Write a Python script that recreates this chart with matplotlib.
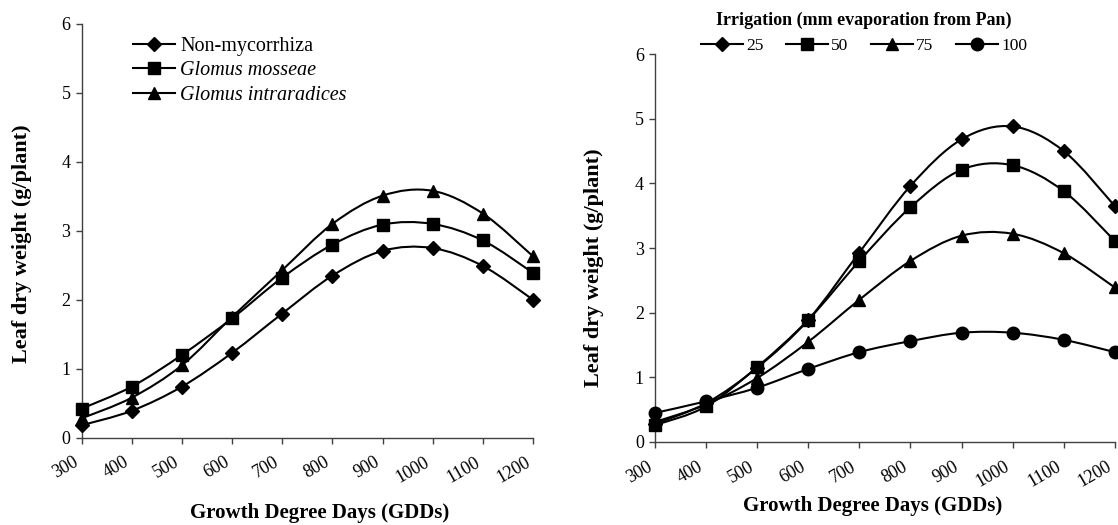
import matplotlib
matplotlib.use("Agg")
import matplotlib.pyplot as plt
import numpy as np
from matplotlib.path import Path
from matplotlib.patches import PathPatch
from matplotlib.lines import Line2D

plt.rcParams['font.family'] = ['Liberation Serif', 'DejaVu Serif']

gdd = [300, 400, 500, 600, 700, 800, 900, 1000, 1100, 1200]

# left panel: mycorrhiza treatments
non_myc = [0.18, 0.39, 0.74, 1.23, 1.80, 2.35, 2.71, 2.75, 2.49, 2.00]
g_mosseae = [0.42, 0.74, 1.20, 1.73, 2.32, 2.80, 3.09, 3.10, 2.86, 2.39]
g_intra = [0.28, 0.58, 1.05, 1.75, 2.43, 3.10, 3.51, 3.58, 3.25, 2.63]

# right panel: irrigation levels
irr_25 = [0.28, 0.60, 1.15, 1.89, 2.93, 3.96, 4.68, 4.88, 4.50, 3.65]
irr_50 = [0.26, 0.55, 1.16, 1.89, 2.80, 3.63, 4.21, 4.28, 3.88, 3.11]
irr_75 = [0.31, 0.58, 0.99, 1.55, 2.20, 2.80, 3.19, 3.22, 2.92, 2.39]
irr_100 = [0.45, 0.63, 0.84, 1.13, 1.39, 1.56, 1.69, 1.69, 1.58, 1.39]

left_labels = ['Non-mycorrhiza', 'Glomus mosseae', 'Glomus intraradices']
right_labels = ['25', '50', '75', '100']

LW = 1.5
SERIF = 'Liberation Serif'


def smooth_path(x, y):
    # excel-like smoothed line: bezier segments through the data points
    pts = np.column_stack([np.asarray(x, float), np.asarray(y, float)])
    n = len(pts)
    verts = [pts[0]]
    codes = [Path.MOVETO]
    for i in range(n - 1):
        p0 = pts[i - 1] if i > 0 else pts[i]
        p1 = pts[i]
        p2 = pts[i + 1]
        p3 = pts[i + 2] if i + 2 < n else pts[i + 1]
        verts += [p1 + (p2 - p0) / 6.0, p2 - (p3 - p1) / 6.0, p2]
        codes += [Path.CURVE4] * 3
    return Path(verts, codes)


def draw_series(ax, y, marker, ms):
    ax.add_patch(PathPatch(smooth_path(gdd, y), fill=False, lw=LW,
                           edgecolor='black', clip_on=False))
    ax.plot(gdd, y, linestyle='none', marker=marker, ms=ms, color='black',
            clip_on=False, zorder=3)


def style_axis(ax):
    ax.set_xlim(300, 1200)
    ax.set_ylim(0, 6)
    ax.set_xticks(gdd)
    ax.set_yticks(range(0, 7))
    ax.spines['top'].set_visible(False)
    ax.spines['right'].set_visible(False)
    for s in ['left', 'bottom']:
        ax.spines[s].set_color('#404040')
        ax.spines[s].set_linewidth(1.0)
    ax.tick_params(direction='out', length=4.5, width=1, color='#404040',
                   labelsize=13)
    ax.tick_params(axis='x', pad=7)
    for lab in ax.get_xticklabels():
        lab.set_rotation(30)
        lab.set_ha('right')
    ax.set_ylabel('Leaf dry weight (g/plant)', fontsize=16, fontweight='bold')
    ax.set_xlabel('Growth Degree Days (GDDs)', fontsize=15, fontweight='bold')


fig = plt.figure(figsize=(11.18, 5.25), dpi=100)

ax1 = fig.add_axes([0.0729, 0.1663, 0.4039, 0.788])
left_series = [(non_myc, 'D', 7), (g_mosseae, 's', 8), (g_intra, '^', 8)]
handles1 = []
for ys, mk, ms in left_series:
    draw_series(ax1, ys, mk, ms)
    handles1.append(Line2D([], [], color='black', lw=LW, marker=mk, ms=ms))
style_axis(ax1)
ax1.xaxis.set_label_coords(0.528, -0.158)
ax1.yaxis.set_label_coords(-0.11, 0.468)
leg1 = ax1.legend(handles1, left_labels, loc='upper left', bbox_to_anchor=(0.114, 0.968),
                  frameon=False, prop={'family': SERIF, 'size': 14.5},
                  handlelength=2.1, handletextpad=0.25,
                  labelspacing=0.25, borderpad=0, borderaxespad=0)
for t in leg1.get_texts()[1:]:
    t.set_style('italic')

ax2 = fig.add_axes([0.5859, 0.1581, 0.4112, 0.739])
right_series = [(irr_25, 'D', 7), (irr_50, 's', 8), (irr_75, '^', 8), (irr_100, 'o', 9)]
handles2 = []
for ys, mk, ms in right_series:
    draw_series(ax2, ys, mk, ms)
    handles2.append(Line2D([], [], color='black', lw=LW, marker=mk, ms=ms))
style_axis(ax2)
ax2.xaxis.set_label_coords(0.474, -0.139)
ax2.yaxis.set_label_coords(-0.11, 0.45)
leg2 = ax2.legend(handles2, right_labels, loc='lower center', bbox_to_anchor=(0.455, 1.0),
                  ncol=4, frameon=False, prop={'family': SERIF, 'size': 12.5},
                  handlelength=2.4, handletextpad=0.2,
                  columnspacing=1.3, title='Irrigation (mm evaporation from Pan)',
                  borderpad=0, borderaxespad=0)
leg2.get_title().set_fontweight('bold')
leg2.get_title().set_fontsize(13)

fig.savefig('out.png', dpi=100)
